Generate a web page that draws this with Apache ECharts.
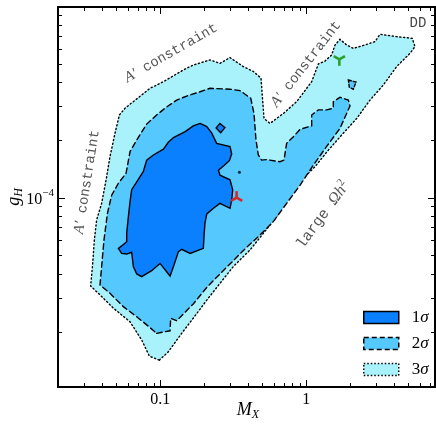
<!DOCTYPE html>
<html><head><meta charset="utf-8">
<script src="https://cdn.jsdelivr.net/npm/echarts@6/dist/echarts.min.js"></script>
<style>html,body{margin:0;padding:0;background:#fff}#c{width:436px;height:424px}</style>
</head><body><div id="c"></div>
<script>
// ---- data (M_X, g_H) ----
const sigma3 = [
[0.0984,1.42e-5],[0.1134,1.57e-5],[0.140,1.96e-5],[0.168,2.35e-5],[0.208,2.92e-5],[0.256,3.57e-5],[0.316,4.37e-5],[0.411,5.33e-5],[0.508,6.52e-5],[0.626,7.96e-5],[0.733,9.72e-5],[0.929,1.24e-4],[1.146,1.45e-4],[1.415,1.77e-4],[1.792,2.17e-4],[2.212,2.59e-4],[2.730,3.23e-4],[3.368,3.87e-4],[4.156,4.83e-4],[5.129,5.66e-4],[5.550,6.14e-4],[5.321,6.78e-4],[4.156,6.92e-4],[3.196,7.12e-4],[2.953,6.52e-4],[2.522,6.26e-4],[2.098,6.01e-4],[1.889,6.26e-4],[1.700,6.70e-4],[1.572,6.26e-4],[1.491,5.55e-4],[1.342,5.16e-4],[1.208,4.98e-4],[1.088,4.03e-4],[0.859,3.17e-4],[0.696,2.75e-4],[0.564,2.44e-4],[0.513,2.59e-4],[0.502,3.23e-4],[0.489,4.20e-4],[0.434,4.55e-4],[0.370,4.83e-4],[0.300,5.38e-4],[0.256,5.02e-4],[0.219,5.23e-4],[0.168,4.92e-4],[0.144,4.64e-4],[0.105,4.03e-4],[0.085,3.72e-4],[0.0573,2.93e-4],[0.0524,2.70e-4],[0.0489,2.17e-4],[0.0452,1.64e-4],[0.0425,1.24e-4],[0.0396,9.34e-5],[0.0366,7.65e-5],[0.0353,6.01e-5],[0.0344,4.54e-5],[0.0333,3.46e-5],[0.0386,3.11e-5],[0.0477,2.65e-5],[0.0620,2.25e-5],[0.0745,1.81e-5],[0.0841,1.49e-5]
];
const sigma2 = [
[0.0944,1.96e-5],[0.1165,2.02e-5],[0.1177,2.35e-5],[0.1294,2.28e-5],[0.168,2.79e-5],[0.208,3.40e-5],[0.256,4.00e-5],[0.316,4.69e-5],[0.390,5.51e-5],[0.482,6.39e-5],[0.594,7.50e-5],[0.733,9.34e-5],[0.905,1.16e-4],[1.117,1.48e-4],[1.378,1.85e-4],[1.700,2.30e-4],[1.991,3.01e-4],[1.940,3.23e-4],[1.700,3.34e-4],[1.531,3.17e-4],[1.531,2.93e-4],[1.378,2.87e-4],[1.208,2.87e-4],[1.088,2.70e-4],[1.088,2.37e-4],[0.905,2.27e-4],[0.815,2.08e-4],[0.733,1.92e-4],[0.703,1.57e-4],[0.660,1.54e-4],[0.535,1.58e-4],[0.494,1.57e-4],[0.469,1.67e-4],[0.452,2.00e-4],[0.438,2.75e-4],[0.416,3.30e-4],[0.351,3.62e-4],[0.300,3.68e-4],[0.219,3.72e-4],[0.187,3.57e-4],[0.1515,3.39e-4],[0.1294,3.23e-4],[0.1076,2.93e-4],[0.0944,2.70e-4],[0.0806,2.42e-4],[0.0689,2.00e-4],[0.0620,1.74e-4],[0.0582,1.34e-4],[0.0516,1.19e-4],[0.0464,1.03e-4],[0.0434,8.29e-5],[0.0411,6.01e-5],[0.0396,4.37e-5],[0.0386,3.50e-5],[0.0452,3.17e-5],[0.0558,2.70e-5],[0.0689,2.39e-5],[0.0806,2.17e-5]
];
const sigma2Island = [[1.940,4.11e-4],[2.189,4.01e-4],[2.098,3.68e-4],[1.970,3.77e-4]];
const sigma1 = [
[0.187,2.44e-4],[0.208,2.35e-4],[0.225,2.17e-4],[0.243,1.92e-4],[0.300,1.85e-4],[0.308,1.69e-4],[0.297,1.56e-4],[0.273,1.47e-4],[0.250,1.39e-4],[0.256,1.31e-4],[0.300,1.24e-4],[0.313,1.10e-4],[0.308,9.72e-5],[0.300,8.80e-5],[0.256,9.34e-5],[0.231,8.80e-5],[0.208,8.22e-5],[0.202,7.35e-5],[0.199,6.26e-5],[0.197,5.44e-5],[0.160,5.12e-5],[0.140,5.38e-5],[0.133,5.23e-5],[0.123,4.37e-5],[0.1165,3.90e-5],[0.0995,4.54e-5],[0.0872,4.16e-5],[0.0745,3.87e-5],[0.0689,4.00e-5],[0.0653,4.37e-5],[0.0636,5.19e-5],[0.0588,5.08e-5],[0.0543,5.12e-5],[0.0516,5.44e-5],[0.0543,5.60e-5],[0.0588,5.89e-5],[0.0588,6.52e-5],[0.0604,7.96e-5],[0.0620,9.53e-5],[0.0636,1.10e-4],[0.0689,1.21e-4],[0.0765,1.37e-4],[0.0806,1.57e-4],[0.0896,1.67e-4],[0.105,1.79e-4],[0.113,1.94e-4],[0.123,2.06e-4],[0.148,2.21e-4],[0.168,2.37e-4]
];
const sigma1Island = [[0.256,2.44e-4],[0.277,2.32e-4],[0.259,2.18e-4],[0.241,2.31e-4]];
const sigma1Dot = [[0.348,1.356e-4]];
const markerRed = [[0.333,1.0e-4]];
const markerGreen = [[1.683,5.27e-4]];
const xTickLabels = ['0.1','1'];
const yTickLabels = ['10^-4'];
const legendNames = ['1σ','2σ','3σ'];

const X_MIN=0.0199, X_MAX=7.61, Y_MIN=1.0285e-5, Y_MAX=9.88e-4;
const C1='#0a80fe', C2='#55c8fe', C3='#aaf2fb';
const SERIF='Liberation Serif', MONO='Liberation Mono', GREY='#555';

function poly(name, pts, fill, dash, z){
  return {name, type:'custom', coordinateSystem:'cartesian2d', data:pts, z, silent:true, animation:false,
    itemStyle:{color:fill},
    renderItem:(params, api)=>{
      if(params.dataIndex!==0) return {type:'group', children:[]};
      return {type:'polygon', shape:{points: pts.map(p=>api.coord(p))},
        style:{fill, stroke:'#000', lineWidth:1.4, lineDash:dash, lineCap:'round'}};
    }};
}
function marker(name, pts, color, up, z){
  return {name, type:'custom', coordinateSystem:'cartesian2d', data:pts, z, silent:true, animation:false,
    renderItem:(params, api)=>{
      const c = api.coord([api.value(0), api.value(1)]);
      const r=6.5, s=up?1:-1;
      const arms=[[0,-r*s],[-0.866*r,0.5*r*s],[0.866*r,0.5*r*s]];
      return {type:'group', children: arms.map(a=>({type:'line', shape:{x1:c[0],y1:c[1],x2:c[0]+a[0],y2:c[1]+a[1]}, style:{stroke:color, lineWidth:2.6}}))};
    }};
}
const xMajor=[0.1,1], yMajor=[1e-4], xMinor=[], yMinor=[];
[0.01,0.1,1].forEach(d=>{for(let k=2;k<=9;k++){const v=k*d; if(v>X_MIN && v<X_MAX) xMinor.push(v);}});
[1e-5,1e-4].forEach(d=>{for(let k=2;k<=9;k++){const v=k*d; if(v>Y_MIN && v<Y_MAX) yMinor.push(v);}});

const tickSeries = {type:'custom', coordinateSystem:'cartesian2d', data:[[1,1e-4]], z:20, silent:true, animation:false,
  renderItem:(params, api)=>{
    const cs=params.coordSys, L=cs.x, R=cs.x+cs.width, T=cs.y, B=cs.y+cs.height;
    const ch=[];
    const ln=(x1,y1,x2,y2)=>ch.push({type:'line', shape:{x1,y1,x2,y2}, style:{stroke:'#000', lineWidth:1}});
    const xt=(v,len)=>{const px=Math.round(api.coord([v,1e-4])[0])+0.5; ln(px,B,px,B-len); ln(px,T,px,T+len);};
    const yt=(v,len)=>{const py=Math.round(api.coord([1,v])[1])+0.5; ln(L,py,L+len,py); ln(R,py,R-len,py);};
    xMajor.forEach(v=>xt(v,7)); xMinor.forEach(v=>xt(v,4));
    yMajor.forEach(v=>yt(v,7)); yMinor.forEach(v=>yt(v,4));
    return {type:'group', children:ch};
  }};

function isDecade(v){const l=Math.log10(v); return Math.abs(l-Math.round(l))<1e-6;}

const option = {
  animation:false,
  backgroundColor:'#fff',
  grid:{left:58, top:7, right:1, bottom:37, show:true, borderColor:'#000', borderWidth:2, containLabel:false},
  xAxis:{type:'log', logBase:10, min:X_MIN, max:X_MAX, splitLine:{show:false}, axisLine:{show:false}, axisTick:{show:false},
    axisLabel:{showMinLabel:false, showMaxLabel:false, margin:5, fontFamily:SERIF, fontSize:16, color:'#000',
      formatter:v=>{ if(!isDecade(v)) return ''; const l=Math.round(Math.log10(v)); return l===-1?xTickLabels[0]:(l===0?xTickLabels[1]:''); }}},
  yAxis:{type:'log', logBase:10, min:Y_MIN, max:Y_MAX, splitLine:{show:false}, axisLine:{show:false}, axisTick:{show:false},
    axisLabel:{showMinLabel:false, showMaxLabel:false, margin:4, color:'#000',
      formatter:v=>{ if(!isDecade(v)) return ''; const l=Math.round(Math.log10(v)); if(l!==-4) return ''; const p=yTickLabels[0].split('^'); return '{b|'+p[0]+'}{s|'+p[1].replace('-','−')+'}'; },
      rich:{b:{fontFamily:SERIF, fontSize:16, lineHeight:20, color:'#000', padding:[4,0,0,0]}, s:{fontFamily:SERIF, fontSize:11, lineHeight:11, verticalAlign:'top', color:'#000'}}}},
  legend:{orient:'vertical', left:358, top:304, itemWidth:35, itemHeight:12, itemGap:9, icon:'rect', selectedMode:false,
    data:[
      {name:legendNames[0], itemStyle:{color:C1, borderColor:'#000', borderWidth:1.5, borderType:'solid'}},
      {name:legendNames[1], itemStyle:{color:C2, borderColor:'#000', borderWidth:1.5, borderType:[5,3]}},
      {name:legendNames[2], itemStyle:{color:C3, borderColor:'#000', borderWidth:1.5, borderType:[1.5,2]}}
    ],
    formatter:n=>'{n|'+n[0]+'}{s|σ}',
    textStyle:{padding:[0,0,0,8], lineHeight:16, rich:{n:{fontFamily:SERIF, fontSize:17, color:'#000'}, s:{fontFamily:SERIF, fontStyle:'italic', fontSize:17, color:'#000'}}}},
  graphic:[
    {type:'text', x:171, y:53, rotation:30*Math.PI/180, style:{text:'{a|A′}{m| constraint}', align:'center', verticalAlign:'middle',
      rich:{a:{fontFamily:SERIF, fontStyle:'italic', fontSize:15, fill:GREY}, m:{fontFamily:MONO, fontSize:14, fill:GREY}}}},
    {type:'text', x:306, y:64, rotation:52*Math.PI/180, style:{text:'{a|A′}{m| constraint}', align:'center', verticalAlign:'middle',
      rich:{a:{fontFamily:SERIF, fontStyle:'italic', fontSize:15, fill:GREY}, m:{fontFamily:MONO, fontSize:14, fill:GREY}}}},
    {type:'text', x:87, y:182, rotation:81*Math.PI/180, style:{text:'{a|A′}{m| constraint}', align:'center', verticalAlign:'middle',
      rich:{a:{fontFamily:SERIF, fontStyle:'italic', fontSize:15, fill:GREY}, m:{fontFamily:MONO, fontSize:14, fill:GREY}}}},
    {type:'text', x:323, y:215, rotation:54*Math.PI/180, style:{text:'{m|large }{o|Ωh}{s|2}', align:'center', verticalAlign:'middle',
      rich:{m:{fontFamily:MONO, fontSize:15, fill:GREY, lineHeight:20}, o:{fontFamily:SERIF, fontStyle:'italic', fontSize:16, fill:GREY, lineHeight:20}, s:{fontFamily:SERIF, fontSize:11, fill:GREY, lineHeight:11, verticalAlign:'top'}}}},
    {type:'text', x:418, y:23, style:{text:'DD', align:'center', verticalAlign:'middle', fontFamily:MONO, fontSize:14, fill:'#444'}},
    {type:'text', x:248, y:410, style:{text:'{i|M}{b|X}', align:'center', verticalAlign:'middle',
      rich:{i:{fontFamily:SERIF, fontStyle:'italic', fontSize:18, lineHeight:22, fill:'#000'}, b:{fontFamily:SERIF, fontStyle:'italic', fontSize:12, lineHeight:12, verticalAlign:'bottom', fill:'#000'}}}},
    {type:'text', x:14, y:197, rotation:Math.PI/2, style:{text:'{i|g}{b|H}', align:'center', verticalAlign:'middle',
      rich:{i:{fontFamily:SERIF, fontStyle:'italic', fontSize:18, lineHeight:22, fill:'#000'}, b:{fontFamily:SERIF, fontStyle:'italic', fontSize:12, lineHeight:12, verticalAlign:'bottom', fill:'#000'}}}}
  ],
  series:[
    poly(legendNames[2], sigma3, C3, [1.2,2.6], 2),
    poly(legendNames[1], sigma2, C2, [5.5,3.5], 3),
    poly('2σ island', sigma2Island, C2, [3,2], 4),
    poly(legendNames[0], sigma1, C1, null, 5),
    poly('1σ island', sigma1Island, C1, null, 6),
    {type:'scatter', data:sigma1Dot, symbol:'circle', symbolSize:3, itemStyle:{color:'#000'}, z:7, silent:true},
    marker('red', markerRed, '#d62728', true, 8),
    marker('green', markerGreen, '#2ca02c', false, 8),
    tickSeries
  ]
};
const chart = echarts.init(document.getElementById('c'));
chart.setOption(option);
</script></body></html>
